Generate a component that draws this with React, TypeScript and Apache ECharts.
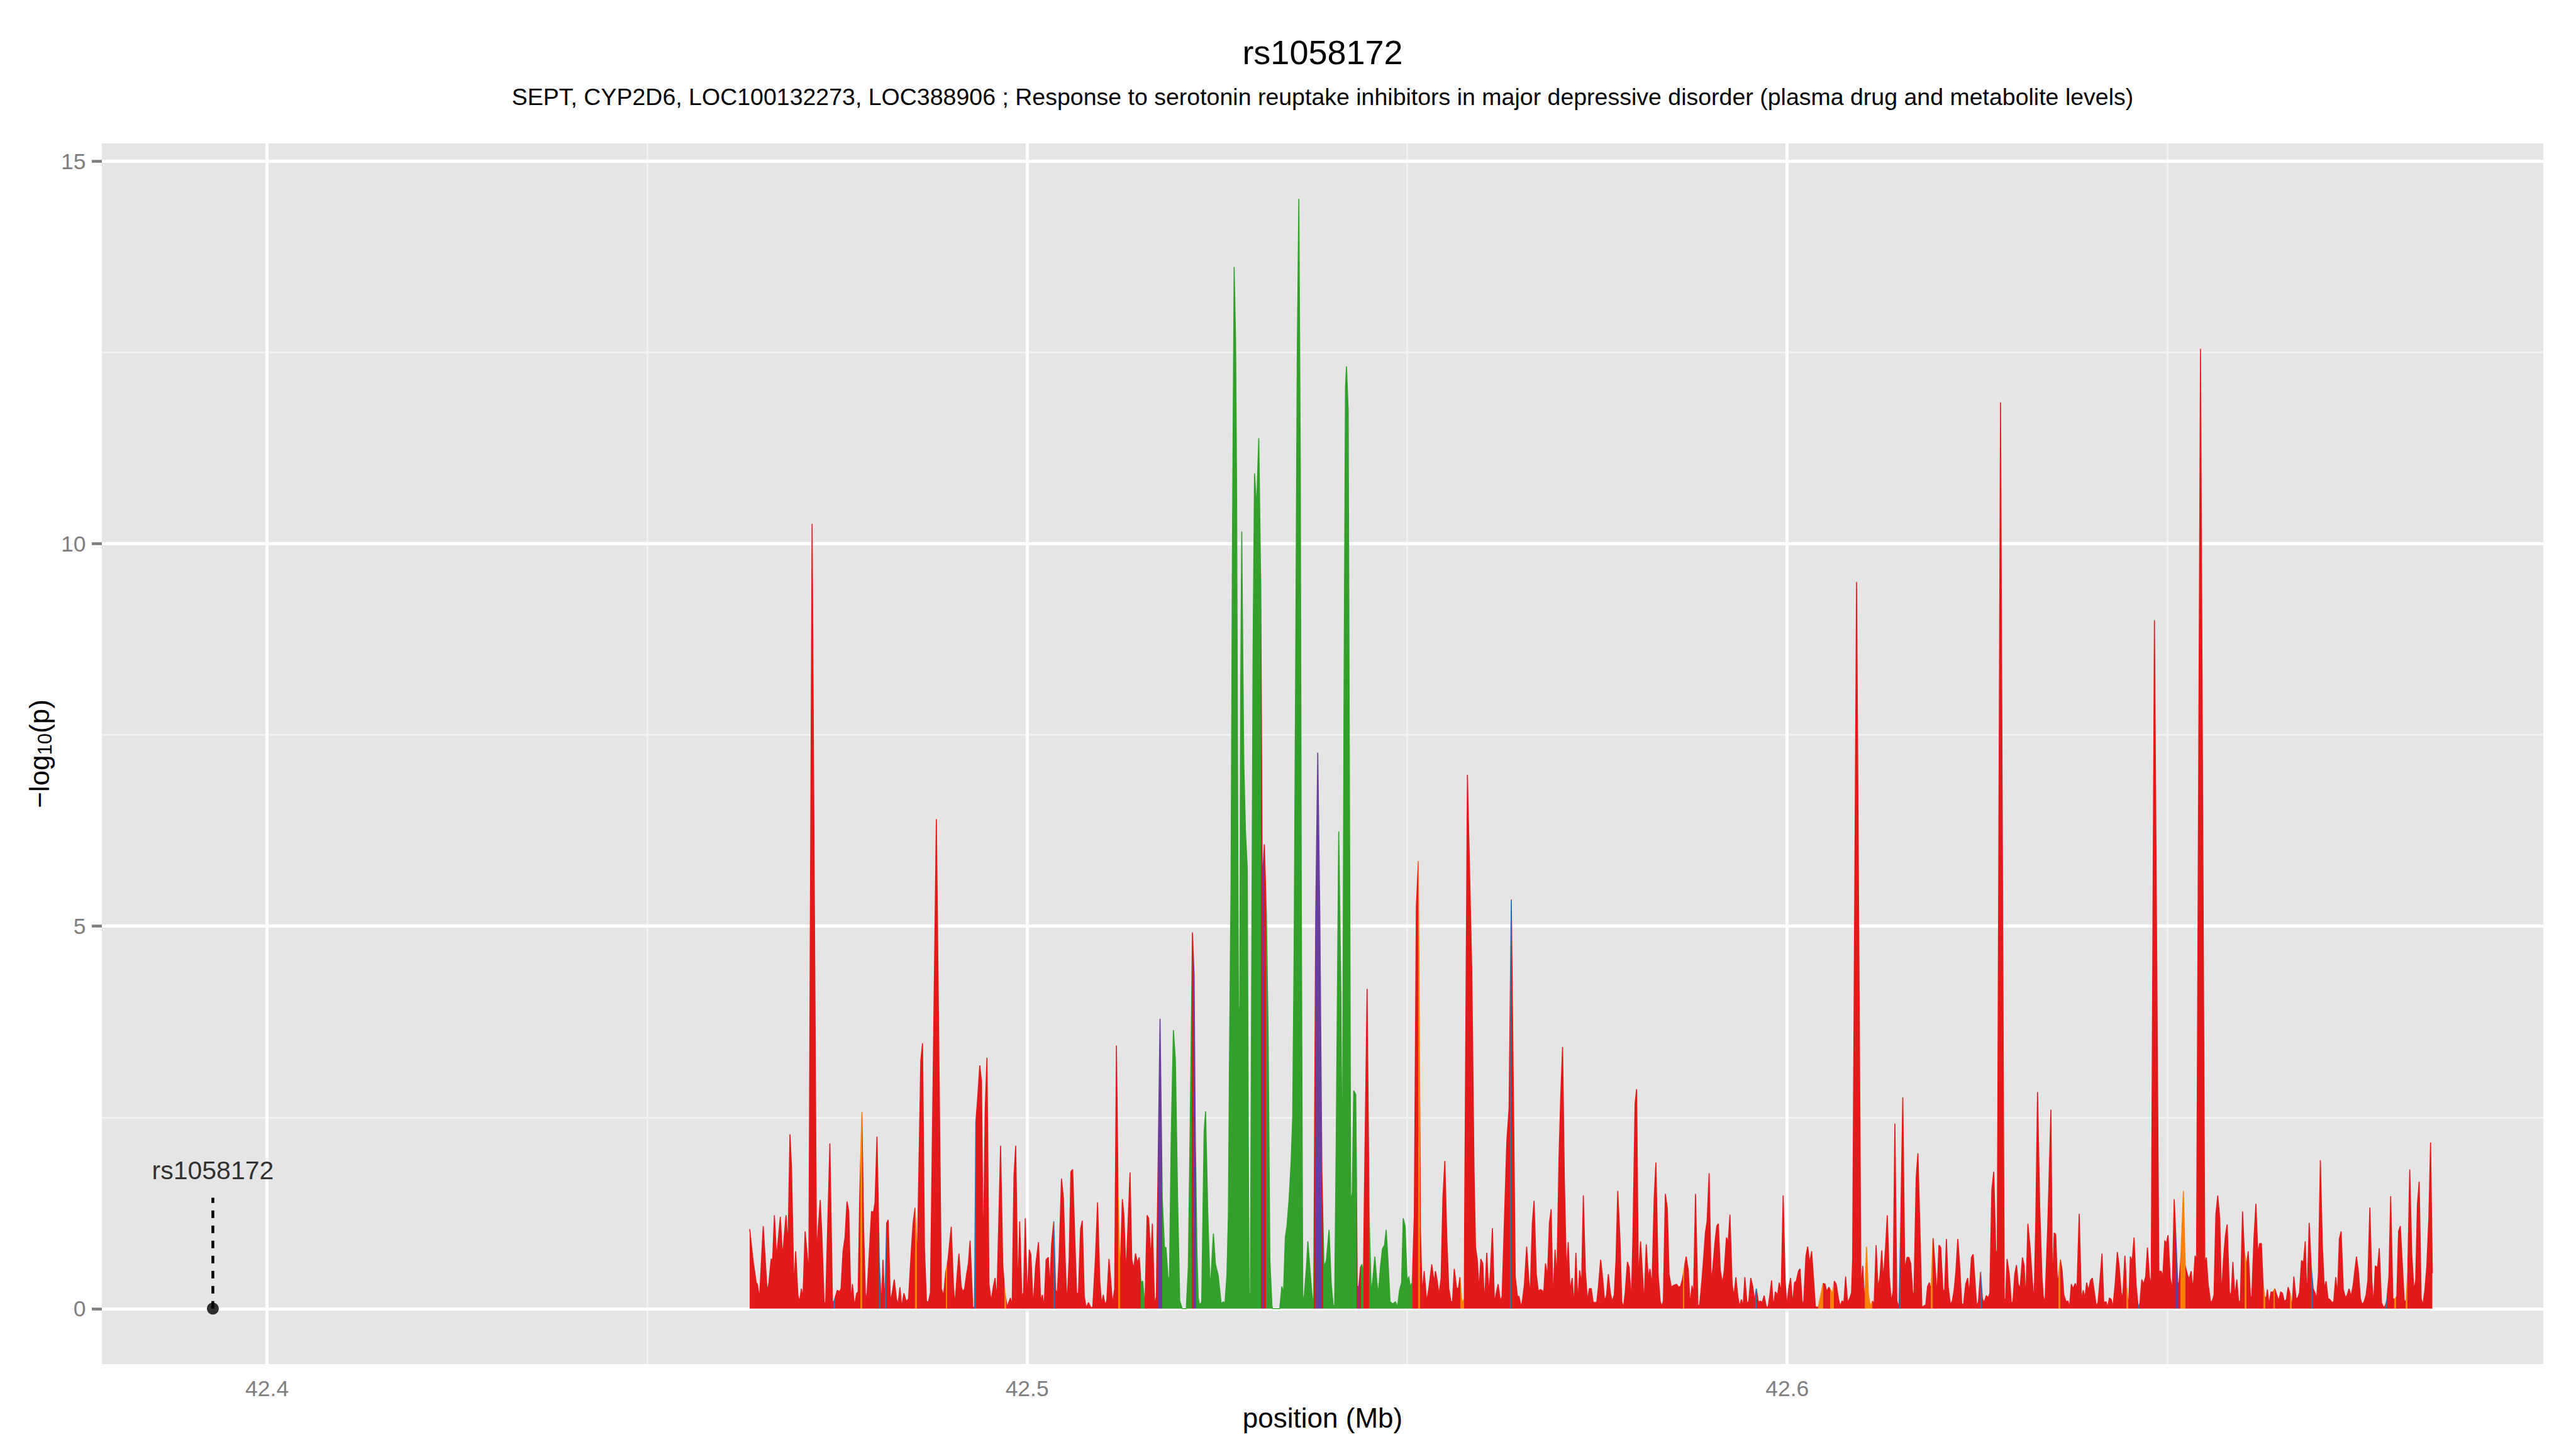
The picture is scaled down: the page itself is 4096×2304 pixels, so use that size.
import React, { useEffect, useRef } from "react";
import * as echarts from "echarts";

const FONT = "'Liberation Sans', Arial, Helvetica, sans-serif";

// SNP positions (Mb) and -log10(p) values
const positionMb = [
42.46350,42.46393,42.46436,42.46451,42.46479,42.46528,42.46580,42.46603,42.46632,42.46652,
42.46675,42.46704,42.46753,42.46782,42.46828,42.46854,42.46880,42.46900,42.46932,42.46955,
42.46984,42.47007,42.47030,42.47050,42.47079,42.47128,42.47171,42.47229,42.47278,42.47301,
42.47330,42.47350,42.47405,42.47439,42.47460,42.47503,42.47532,42.47552,42.47578,42.47604,
42.47630,42.47653,42.47682,42.47702,42.47728,42.47757,42.47777,42.47797,42.47826,42.47849,
42.47875,42.47895,42.47953,42.47979,42.47999,42.48025,42.48056,42.48085,42.48103,42.48128,
42.48152,42.48172,42.48201,42.48226,42.48252,42.48281,42.48301,42.48327,42.48350,42.48379,
42.48411,42.48440,42.48477,42.48500,42.48526,42.48555,42.48601,42.48624,42.48650,42.48676,
42.48702,42.48728,42.48806,42.48872,42.48901,42.48930,42.48959,42.49002,42.49031,42.49051,
42.49080,42.49103,42.49132,42.49155,42.49178,42.49204,42.49227,42.49250,42.49285,42.49308,
42.49325,42.49348,42.49377,42.49400,42.49423,42.49449,42.49472,42.49498,42.49527,42.49556,
42.49579,42.49602,42.49651,42.49680,42.49708,42.49737,42.49780,42.49803,42.49827,42.49850,
42.49879,42.49902,42.49930,42.49953,42.49976,42.50002,42.50028,42.50049,42.50080,42.50112,
42.50150,42.50178,42.50201,42.50224,42.50250,42.50279,42.50299,42.50322,42.50351,42.50374,
42.50397,42.50420,42.50452,42.50478,42.50501,42.50524,42.50553,42.50576,42.50599,42.50625,
42.50651,42.50674,42.50703,42.50726,42.50752,42.50778,42.50807,
42.50841,42.50864,42.50898,42.50927,42.50956,42.50979,42.51002,42.51025,42.51048,42.51077,
42.51100,42.51123,42.51152,42.51175,42.51198,42.51224,42.51253,42.51273,42.51302,42.51354,
42.51377,42.51403,42.51426,42.51452,42.51475,42.51498,42.51521,42.51550,42.51579,42.51599,
42.51628,42.51648,42.51677,42.51700,42.51749,42.51778,42.51807,42.51827,42.51856,42.51873,
42.51896,42.51925,42.51951,42.51980,42.52008,
42.52040,42.52094,42.52121,42.52143,42.52175,42.52197,42.52213,42.52235,42.52251,42.52270,
42.52297,42.52316,42.52329,42.52348,42.52378,42.52405,42.52418,42.52451,42.52478,42.52513,
42.52554,42.52581,42.52602,42.52629,42.52648,42.52662,42.52683,42.52702,42.52724,42.52743,
42.52756,42.52770,42.52781,42.52797,42.52810,42.52824,42.52837,42.52851,42.52873,42.52897,
42.52910,42.52921,42.52937,42.52954,42.52973,42.52992,42.53019,42.53048,42.53073,42.53094,
42.53121,42.53148,42.53170,42.53194,42.53221,42.53229,42.53324,42.53351,42.53373,42.53397,
42.53419,42.53446,42.53473,42.53494,42.53513,42.53532,42.53554,42.53575,42.53594,42.53608,
42.53627,42.53648,42.53675,42.53694,42.53716,42.53743,42.53770,42.53797,42.53824,42.53851,
42.53878,42.53905,42.53937,42.53973,42.54000,42.54027,42.54046,42.54067,42.54100,42.54127,
42.54148,42.54170,42.54189,42.54202,42.54224,42.54243,42.54257,42.54278,42.54297,42.54324,
42.54343,42.54365,42.54386,42.54405,42.54424,42.54473,42.54500,42.54527,42.54554,42.54575,
42.54602,42.54621,42.54648,42.54675,42.54702,42.54724,42.54748,42.54775,42.54811,42.54846,
42.54873,42.54900,42.54927,42.54948,42.54973,42.55000,42.55021,42.55040,42.55067,42.55094,
42.55121,42.55148,42.55175,42.55197,42.55224,42.55257,42.55289,42.55324,
42.55355,42.55372,42.55395,42.55418,42.55447,42.55470,42.55496,42.55522,42.55548,42.55577,
42.55597,42.55620,42.55649,42.55672,42.55695,42.55721,42.55750,42.55793,42.55851,42.55880,
42.55900,42.55923,42.55946,42.55969,42.55995,42.56018,42.56047,42.56076,42.56096,42.56122,
42.56148,42.56168,42.56197,42.56226,42.56249,
42.56312,42.56341,42.56370,42.56404,42.56422,42.56451,42.56471,42.56500,42.56520,42.56543,
42.56572,42.56601,42.56618,42.56647,42.56670,42.56699,42.56727,42.56750,42.56773,42.56797,
42.56820,42.56846,42.56872,42.56895,42.56918,42.56946,42.56970,42.56998,42.57021,42.57045,
42.57068,42.57096,42.57119,42.57143,42.57171,42.57197,42.57220,42.57246,42.57269,42.57295,
42.57318,42.57344,42.57373,42.57396,42.57422,42.57448,42.57494,42.57517,42.57546,42.57575,
42.57598,42.57624,42.57647,42.57673,42.57696,42.57725,42.57748,42.57771,42.57800,42.57823,
42.57846,42.57869,42.57898,42.57921,42.57950,42.57970,42.57999,42.58019,42.58042,42.58071,
42.58094,42.58117,42.58146,42.58172,42.58195,42.58221,42.58250,42.58273,42.58302,42.58330,
42.58351,42.58371,42.58397,42.58423,42.58446,42.58475,42.58498,42.58544,42.58573,42.58596,
42.58619,42.58671,42.58699,42.58722,42.58748,42.58768,42.58794,42.58826,42.58849,42.58878,
42.58901,42.58924,42.58947,42.58973,42.58999,42.59022,42.59051,42.59074,42.59094,42.59120,
42.59149,42.59172,42.59201,42.59224,42.59247,42.59276,42.59299,42.59325,42.59351,42.59374,
42.59397,42.59420,42.59443,42.59472,42.59495,42.59521,42.59547,42.59570,42.59593,42.59622,
42.59645,42.59671,42.59697,42.59726,42.59749,42.59772,42.59795,42.59818,42.59844,
42.59875,42.59895,42.59921,42.59947,42.59973,42.59996,42.60019,42.60045,42.60071,42.60097,
42.60120,42.60149,42.60169,42.60198,42.60218,42.60247,42.60270,42.60296,42.60322,42.60348,
42.60371,42.60406,42.60443,42.60472,42.60498,42.60521,42.60547,42.60573,42.60596,42.60619,
42.60645,42.60674,42.60697,42.60723,42.60746,42.60769,42.60795,42.60821,42.60847,42.60861,
42.60913,42.60971,42.60994,42.61020,42.61043,42.61069,42.61097,42.61121,42.61144,42.61170,
42.61195,42.61221,42.61244,42.61265,42.61294,42.61317,42.61343,42.61371,42.61394,42.61417,
42.61443,42.61472,42.61495,42.61521,42.61547,42.61576,42.61602,42.61625,42.61651,42.61668,
42.61697,42.61720,42.61743,42.61772,42.61824,42.61847,42.61870,42.61893,42.61919,42.61942,
42.61971,42.61997,42.62020,42.62049,42.62072,42.62095,42.62118,42.62147,42.62173,42.62196,
42.62219,42.62245,42.62268,42.62297,42.62320,42.62349,42.62375,42.62395,42.62424,42.62447,
42.62470,42.62493,42.62516,42.62545,42.62568,42.62591,42.62620,42.62643,42.62666,42.62692,
42.62718,42.62744,42.62764,42.62807,42.62856,42.62873,42.62893,42.62922,42.62951,42.62971,
42.62994,42.63017,42.63040,42.63064,42.63095,42.63118,42.63139,42.63167,42.63196,42.63225,
42.63248,42.63271,42.63294,42.63323,42.63352,42.63369,42.63392,42.63427,42.63470,42.63490,
42.63513,42.63533,42.63557,42.63577,42.63594,42.63617,42.63640,42.63669,42.63692,42.63715,
42.63738,42.63761,42.63790,42.63813,42.63842,42.63871,42.63894,42.63917,42.63940,42.63963,
42.63992,42.64015,42.64038,42.64067,42.64090,42.64119,42.64142,42.64165,42.64194,42.64217,
42.64240,42.64263,42.64286,42.64315,42.64344,42.64367,
42.64394,42.64414,42.64443,42.64466,42.64492,42.64515,42.64538,42.64564,42.64590,42.64619,
42.64642,42.64665,42.64688,42.64717,42.64740,42.64766,42.64789,42.64832,42.64890,42.64919,
42.64942,42.64968,42.64988,42.65011,42.65040,42.65066,42.65092,42.65115,42.65138,42.65155,
42.65178,42.65213,42.65236,42.65265,42.65288,42.65314,42.65340,42.65366,42.65386,42.65438,
42.65495,42.65515,42.65539,42.65570,42.65593,42.65616,42.65640,42.65665,42.65691,42.65714,
42.65740,42.65766,42.65789,42.65818,42.65841,42.65864,42.65890,42.65916,42.65939,42.65962,
42.65991,42.66014,42.66043,42.66066,42.66095,42.66112,42.66141,42.66167,42.66193,42.66216,
42.66239,42.66259,42.66280,42.66303,42.66317,42.66340,42.66366,42.66389,42.66415,42.66441,
42.66467,42.66493,42.66516,42.66542,42.66568,42.66591,42.66620,42.66643,42.66666,42.66695,
42.66718,42.66741,42.66767,42.66793,42.66816,42.66839,42.66868,42.66894,42.66920,42.66943,
42.66966,42.66989,42.67015,42.67041,42.67067,42.67090,42.67116,42.67139,42.67168,42.67191,
42.67217,42.67240,42.67265,42.67288,42.67317,42.67346,42.67369,42.67392,42.67418,42.67444,
42.67490,42.67516,42.67542,42.67565,42.67594,42.67617,42.67640,42.67666,42.67692,42.67715,
42.67738,42.67767,42.67790,42.67819,42.67845,42.67865,42.67888,42.67917,42.67940,42.67969,
42.67992,42.68021,42.68044,42.68067,42.68090,42.68119,42.68142,42.68165,42.68191,42.68217,
42.68246,42.68269,42.68292,42.68315,42.68341,42.68364,42.68390,42.68416,42.68442,42.68465,
42.68488
];

const negLog10P = [
1.04,0.64,0.34,0.32,0.13,1.08,0.22,0.34,0.65,0.64,
1.22,0.67,1.20,0.68,1.22,0.83,2.28,1.85,0.26,0.75,
0.18,0.09,0.26,0.13,1.01,0.46,10.26,0.73,1.42,0.93,
0.05,0.09,2.16,0.08,0.10,0.24,0.22,0.26,0.75,0.93,
1.40,1.28,0.08,0.32,0.03,0.20,0.22,1.42,2.57,1.04,
0.10,0.21,1.27,1.26,1.39,2.25,0.59,0.02,0.64,0.05,
1.12,1.16,0.09,0.21,0.38,0.13,0.05,0.28,0.02,0.20,
0.09,0.13,0.77,1.12,1.32,0.64,3.24,3.47,0.77,0.09,
0.09,0.21,6.40,0.26,0.17,0.48,0.64,1.07,0.29,0.05,
0.45,0.72,0.29,0.22,0.26,0.45,0.59,0.89,0.01,0.02,
2.44,2.73,3.18,2.97,0.61,2.62,3.28,0.32,0.10,0.29,
0.40,0.10,2.13,0.56,0.22,0.02,0.14,0.03,1.73,2.13,
0.18,1.14,0.16,0.21,1.18,0.10,0.77,0.71,0.02,0.56,
0.87,0.10,0.18,0.02,0.64,0.67,0.28,0.84,1.14,0.24,
0.21,0.64,1.70,1.44,0.64,0.05,0.64,1.79,1.82,0.99,
0.21,0.18,1.04,1.15,0.16,0.01,0.08,
0.01,0.02,0.64,1.39,0.37,0.06,0.18,0.05,0.10,0.65,
0.37,0.06,0.26,3.44,1.44,0.42,1.43,1.23,0.45,1.78,
0.64,0.52,0.72,0.60,0.67,0.34,0.36,0.03,1.22,1.18,
0.64,1.11,0.05,0.16,3.79,1.44,0.80,0.80,0.37,0.42,
2.25,3.64,3.24,1.44,0.10,
0,0,0.54,2.20,4.92,4.37,2.20,0.73,0.14,0.04,
0.09,1.42,2.31,2.58,1.22,0.34,0.39,0.98,0.58,0.44,
0.06,0.09,0.06,0.44,1.22,3.19,5.56,10.08,13.62,12.64,
10.77,6.64,3.98,3.68,8.11,10.16,8.60,7.13,6.24,5.75,
2.20,0.19,0.19,4.18,8.60,10.92,10.47,11.38,9.49,5.56,
6.07,5.16,3.68,0.63,0.04,0,0,0.29,0.19,0.93,
1.08,1.42,1.91,2.50,4.67,8.11,12.44,14.51,11.07,5.16,
0.06,0.19,0.54,0.88,0.58,0.24,0,5.16,7.27,5.16,
1.81,0.54,0.63,1.03,0.34,0.04,0.04,2.20,6.24,4.18,
1.52,8.11,12.05,12.32,11.75,6.14,1.37,1.52,2.85,2.80,
0.29,0.29,0.54,0.58,0.44,4.18,1.22,0.19,0.44,0.68,
0.34,0.19,0.54,0.78,0.83,1.03,0.63,0.09,0.06,0.09,
0.02,0.24,0.34,1.18,1.08,0.34,0.42,0.29,0.34,1.22,
5.26,5.85,1.03,0.19,0.49,0.09,0.29,0.58,
0.34,0.49,0.37,0.18,0.40,1.44,1.93,0.91,0.26,0.09,
0.09,0.52,0.28,0.25,0.41,0.07,0.13,6.98,4.40,1.80,
0.80,0.64,0.24,0.65,0.59,0.06,0.73,0.18,0.50,1.05,
0.08,0.18,0.32,0.10,0.16,
2.20,2.62,5.35,2.25,0.42,0.16,0.16,0.02,0.13,0.32,
0.81,0.37,0.17,1.12,1.41,0.45,0.22,0.25,0.24,0.21,
0.59,0.42,1.12,1.30,0.10,0.77,0.40,1.98,2.79,3.42,
1.71,0.45,0.87,0.24,0.40,0.03,0.73,0.08,0.50,0.32,
1.48,0.50,0.10,0.26,0.26,0.08,0.08,0.29,0.64,0.37,
0.09,0.18,0.45,0.21,0.09,0.18,0.64,1.54,0.91,0.09,
0.02,0.21,0.61,0.54,0.10,0.91,2.68,2.87,0.37,0.88,
0.50,0.06,0.84,0.40,0.52,0.29,1.44,1.91,0.45,0.09,
0.03,0.10,1.50,1.31,0.45,0.28,0.30,0.32,0.28,0.29,
0.37,0.68,0.50,0.05,0.30,0.18,1.50,0.03,0.05,0.37,
0.67,0.99,1.15,1.77,0.37,0.53,0.88,1.08,1.11,0.50,
0.33,0.50,0.93,0.87,1.23,0.32,0.16,0.41,0.16,0.03,
0.12,0.03,0.41,0.06,0.10,0.40,0.29,0.10,0.26,0.08,
0.10,0.08,0.17,0.02,0.02,0.18,0.37,0.02,0.22,
0.18,0.34,0.21,1.48,0.37,0.03,0.26,0.40,0.06,0.34,
0.36,0.49,0.52,0.06,0.10,0.69,0.81,0.59,0.75,0.37,
0.03,0.01,0.18,0.33,0.32,0.22,0.28,0.24,0.20,0.36,
0.32,0.13,0.03,0.10,0.08,0.42,0.08,0.13,0.21,0.64,
9.50,0.24,0.56,0.05,0.81,0.18,0.02,0.10,0.06,0.83,
0.26,0.42,0.76,0.37,0.80,1.22,0.42,0.08,0.24,2.42,
0.10,0.01,1.18,2.76,0.50,0.67,0.67,0.59,0.21,0.18,
1.71,2.03,1.18,0.02,0.05,0.29,0.34,0.24,0.92,0.61,
0.17,0.83,0.80,0.24,0.24,0.91,0.29,0.05,0.10,0.24,
0.48,0.91,0.59,0.06,0.05,0.32,0.40,0.18,0.67,0.71,
0.37,0.03,0.09,0.48,0.13,0.08,0.17,0.14,0.20,1.55,
1.79,0.77,0.69,11.85,0.13,0.10,0.65,0.45,0.05,0.10,
0.45,0.57,0.32,0.26,0.67,0.56,0.10,1.11,0.80,0.37,
0.08,1.15,2.83,1.31,0.42,0.16,0.08,1.04,2.60,0.26,
0.99,0.97,0.29,0.50,0.64,0.50,0.18,0.09,0.10,0.02,
0.32,0.26,0.33,0.26,1.24,0.10,0.24,0.14,0.34,0.24,
0.37,0.40,0.24,0.03,0.08,0.42,0.72,0.08,0.09,0.02,
0.14,0.12,0.02,0.32,0.74,0.56,
0.21,0.13,0.69,0.29,0.01,0.68,0.61,0.93,0.32,0.01,
0.08,0.38,0.32,0.42,0.80,0.42,0.29,9.00,0.49,0.49,
0.42,0.89,0.85,0.96,0.40,0.24,1.43,0.91,0.34,0.33,
0.64,1.54,0.56,0.45,0.38,0.49,0.24,0.69,0.64,12.55,
0.56,0.67,0.32,0.09,0.10,0.18,1.23,1.48,1.18,0.16,
0.64,0.96,1.10,0.22,0.16,0.61,0.16,0.38,0.10,0.09,
1.27,0.75,0.56,0.75,0.16,0.14,0.91,1.37,0.71,0.85,
0.85,0.37,0.16,0.13,0.25,0.05,0.22,0.21,0.26,0.18,
0.10,0.22,0.20,0.09,0.12,0.28,0.18,0.02,0.42,0.13,
0.14,0.21,0.63,0.60,0.88,0.09,1.12,0.56,0.26,0.21,
0.13,0.45,1.94,0.83,0.26,0.36,0.13,0.12,0.08,0.09,
0.41,0.18,0.91,1.01,0.25,0.14,0.18,0.26,0.16,0.29,
0.68,0.48,0.13,0.05,0.10,0.18,0.37,1.32,0.37,0.05,
0.56,0.53,0.79,0.08,0.02,0.03,0.10,0.42,1.47,0.13,
0.12,0.16,1.01,1.08,0.64,0.10,0.10,0.50,1.82,0.72,
0.24,0.37,1.36,1.66,0.13,0.05,0.24,0.56,1.18,2.17,
0.46
];

// LD colour classes along the region (everything not listed is red)
const ldPalette: Record<string, string> = {
  red: "#E31A1C",
  green: "#33A02C",
  purple: "#6A3D9A",
  orange: "#FF7F00",
  blue: "#1F78B4",
};
const ldSegmentStart = [
  42.47451, 42.47803, 42.48051, 42.48128, 42.48526, 42.48927, 42.49302, 42.49703, 42.50346, 42.51201,
  42.51498, 42.51717, 42.51781, 42.52191, 42.52224, 42.53094, 42.53143, 42.53797, 42.53897, 42.54351,
  42.54392, 42.54500, 42.55143, 42.55701, 42.56355, 42.58627, 42.59576, 42.60406, 42.60567, 42.61020,
  42.61475, 42.61893, 42.62542, 42.63571, 42.64466, 42.64619, 42.65115, 42.65170, 42.66020, 42.66265,
  42.66395, 42.66617, 42.66894, 42.67868, 42.67989, 42.68139,
];
const ldSegmentEnd = [
  42.47474, 42.47829, 42.48071, 42.48149, 42.48547, 42.48947, 42.49325, 42.49723, 42.50366, 42.51219,
  42.51550, 42.51781, 42.52170, 42.52224, 42.53073, 42.53121, 42.53775, 42.53878, 42.54332, 42.54370,
  42.54424, 42.55068, 42.55170, 42.55750, 42.56368, 42.58648, 42.59593, 42.60472, 42.60619, 42.61121,
  42.61495, 42.61916, 42.62562, 42.63594, 42.64486, 42.64636, 42.65144, 42.65242, 42.66043, 42.66288,
  42.66415, 42.66637, 42.66914, 42.67888, 42.68009, 42.68162,
];
const ldSegmentClass = [
  "blue", "orange", "blue", "blue", "orange", "orange", "blue", "orange", "blue", "orange",
  "green", "purple", "green", "purple", "green", "purple", "green", "purple", "green", "purple",
  "green", "green", "orange", "orange", "blue", "orange", "blue", "orange", "orange", "orange",
  "blue", "orange", "blue", "orange", "orange", "blue", "purple", "orange", "orange", "orange",
  "orange", "orange", "blue", "blue", "orange", "orange",
];

// axes
const xMajorTicks = [42.4, 42.5, 42.6];
const xMinorTicks = [42.45, 42.55, 42.65];
const yMajorTicks = [0, 5, 10, 15];
const yMinorTicks = [2.5, 7.5, 12.5];

// query SNP annotation
const snpName = "rs1058172";
const snpPosition = 42.39287;
const snpValue = 0;
const snpLineTop = 1.45;
const snpLabelY = 1.81;

const titleText = "rs1058172";
const subtitleText =
  "SEPT, CYP2D6, LOC100132273, LOC388906 ; Response to serotonin reuptake inhibitors in major depressive disorder (plasma drug and metabolite levels)";
const xTitle = "position (Mb)";

function buildOption() {
  const xLo = Math.min(snpPosition, positionMb[0]);
  const xHi = Math.max(...positionMb);
  const xPad = (xHi - xLo) * 0.05;
  const yLo = 0;
  const yHi = Math.max(...negLog10P);
  const yPad = (yHi - yLo) * 0.05;

  const MAJOR = "#FFFFFF";
  const MINOR = "#F2F2F2";
  const gridLines = [
    ...xMinorTicks.map((v) => ({ xAxis: v, lineStyle: { color: MINOR, width: 2.8, type: "solid" } })),
    ...yMinorTicks.map((v) => ({ yAxis: v, lineStyle: { color: MINOR, width: 2.8, type: "solid" } })),
    ...xMajorTicks.map((v) => ({ xAxis: v, lineStyle: { color: MAJOR, width: 5, type: "solid" } })),
    ...yMajorTicks.map((v) => ({ yAxis: v, lineStyle: { color: MAJOR, width: 5, type: "solid" } })),
  ];

  const pieces = ldSegmentStart.map((s, i) => ({
    gte: s,
    lt: ldSegmentEnd[i],
    color: ldPalette[ldSegmentClass[i]],
  }));

  const GRID_LEFT = 162;
  const GRID_RIGHT = 52;
  const GRID_TOP = 228;
  const GRID_BOTTOM = 135;
  const panelCx = GRID_LEFT + (4096 - GRID_LEFT - GRID_RIGHT) / 2;
  const panelCy = GRID_TOP + (2304 - GRID_TOP - GRID_BOTTOM) / 2;

  return {
    animation: false,
    backgroundColor: "#FFFFFF",
    textStyle: { fontFamily: FONT },
    grid: {
      left: GRID_LEFT,
      right: GRID_RIGHT,
      top: GRID_TOP,
      bottom: GRID_BOTTOM,
      show: true,
      backgroundColor: "#E5E5E5",
      borderWidth: 0,
    },
    xAxis: {
      type: "value",
      min: xLo - xPad,
      max: xHi + xPad,
      axisLine: { show: false },
      splitLine: { show: false },
      axisTick: {
        show: true,
        customValues: xMajorTicks,
        length: 16,
        lineStyle: { color: "#7F7F7F", width: 4.5 },
      },
      axisLabel: {
        customValues: xMajorTicks,
        formatter: (v: number) => v.toFixed(1),
        margin: 21,
        fontSize: 35.5,
        color: "#7F7F7F",
        fontFamily: FONT,
      },
    },
    yAxis: {
      type: "value",
      min: yLo - yPad,
      max: yHi + yPad,
      axisLine: { show: false },
      splitLine: { show: false },
      axisTick: {
        show: true,
        customValues: yMajorTicks,
        length: 16,
        lineStyle: { color: "#7F7F7F", width: 4.5 },
      },
      axisLabel: {
        customValues: yMajorTicks,
        formatter: (v: number) => String(Math.round(v)),
        margin: 25.5,
        fontSize: 35.5,
        color: "#7F7F7F",
        fontFamily: FONT,
      },
    },
    visualMap: {
      type: "piecewise",
      show: false,
      dimension: 0,
      seriesIndex: 0,
      pieces,
      outOfRange: { color: ldPalette.red },
    },
    series: [
      {
        type: "line",
        data: positionMb.map((x, i) => [x, negLog10P[i]]),
        showSymbol: false,
        symbol: "none",
        smooth: false,
        z: 3,
        silent: true,
        lineStyle: { width: 1.6 },
        areaStyle: { opacity: 1 },
        emphasis: { disabled: true },
        markLine: {
          silent: true,
          z: 1,
          symbol: ["none", "none"],
          label: { show: false },
          emphasis: { disabled: true },
          animation: false,
          data: gridLines,
        },
      },
      {
        type: "line",
        data: [
          [snpPosition, snpValue],
          [snpPosition, snpLineTop],
        ],
        symbol: "none",
        z: 4,
        silent: true,
        lineStyle: { color: "#000000", width: 4.5, type: [12, 12] },
      },
      {
        type: "scatter",
        data: [[snpPosition, snpValue]],
        symbol: "circle",
        symbolSize: 19,
        z: 5,
        silent: true,
        itemStyle: { color: "#000000" },
      },
      {
        type: "scatter",
        data: [[snpPosition, snpLabelY]],
        symbolSize: 1,
        z: 5,
        silent: true,
        itemStyle: { color: "rgba(0,0,0,0)" },
        label: {
          show: true,
          position: "inside",
          formatter: snpName,
          fontSize: 41,
          color: "#000000",
          fontFamily: FONT,
        },
      },
    ],
    graphic: [
      {
        type: "text",
        x: panelCx,
        y: 83,
        silent: true,
        style: {
          text: titleText,
          font: `54px ${FONT}`,
          fill: "#000000",
          textAlign: "center",
          textVerticalAlign: "middle",
          align: "center",
          verticalAlign: "middle",
        },
      },
      {
        type: "text",
        x: panelCx,
        y: 154,
        silent: true,
        style: {
          text: subtitleText,
          font: `37.5px ${FONT}`,
          fill: "#000000",
          textAlign: "center",
          textVerticalAlign: "middle",
          align: "center",
          verticalAlign: "middle",
        },
      },
      {
        type: "text",
        x: panelCx,
        y: 2254,
        silent: true,
        style: {
          text: xTitle,
          font: `44px ${FONT}`,
          fill: "#000000",
          textAlign: "center",
          textVerticalAlign: "middle",
          align: "center",
          verticalAlign: "middle",
        },
      },
      {
        type: "text",
        x: 62,
        y: panelCy,
        rotation: Math.PI / 2,
        silent: true,
        style: {
          text: "\u2212log{sub|10}(p)",
          font: `44px ${FONT}`,
          fill: "#000000",
          lineHeight: 50,
          textAlign: "center",
          textVerticalAlign: "middle",
          align: "center",
          verticalAlign: "middle",
          rich: {
            sub: {
              font: `31px ${FONT}`,
              fill: "#000000",
              verticalAlign: "bottom",
              lineHeight: 31,
            },
          },
        },
      },
    ],
  };
}

export default function App() {
  const ref = useRef<HTMLDivElement>(null);
  useEffect(() => {
    if (!ref.current) return;
    const chart = echarts.init(ref.current, null, { renderer: "svg" });
    chart.setOption(buildOption() as any);
    return () => {
      chart.dispose();
    };
  }, []);
  return (
    <div
      ref={ref}
      style={{ position: "absolute", left: 0, top: 0, width: 4096, height: 2304 }}
    />
  );
}
